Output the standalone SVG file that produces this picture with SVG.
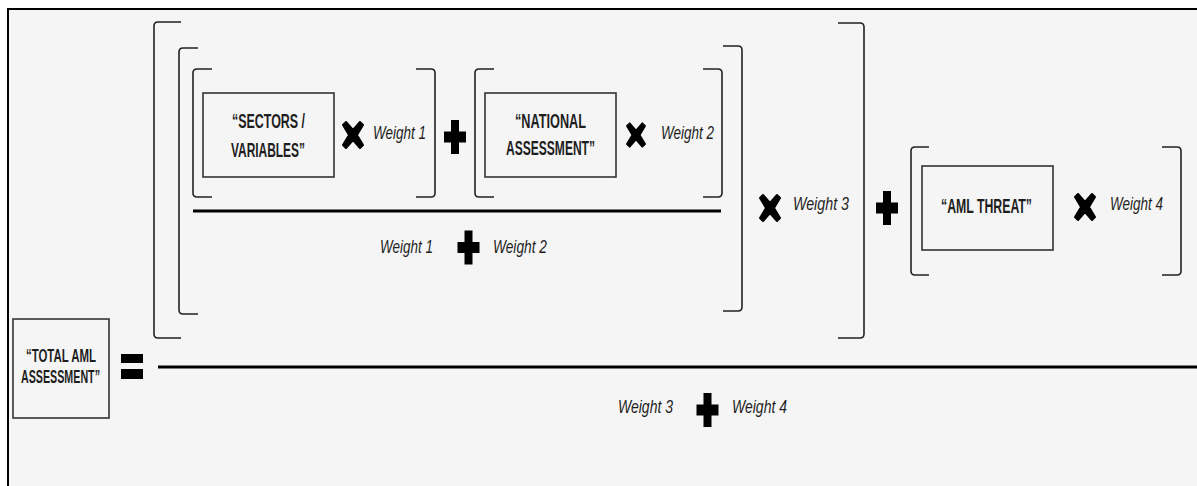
<svg xmlns="http://www.w3.org/2000/svg" xmlns:xlink="http://www.w3.org/1999/xlink" width="1197" height="486" viewBox="0 0 1197 486">
<style>
.frame{fill:#f5f5f5;stroke:#000;stroke-width:2}
.box{fill:none;stroke:#333;stroke-width:1.6}
.br{fill:none;stroke:#222;stroke-width:1.6}
.bar{stroke:#000;stroke-width:3}
.lbl{font-family:"Liberation Sans",Arial,sans-serif;font-weight:bold;font-size:20px;fill:#1e1e1e}
.lbl-s{font-size:18px}
.w{font-family:"Liberation Sans",Arial,sans-serif;font-style:italic;font-size:18px;fill:#1e1e1e}
.op{fill:#000}
</style>
<defs>
<g id="plus"><rect x="-4" y="-17" width="8" height="34"/><rect x="-11" y="-5.5" width="22" height="11"/></g>
<g id="times"><path d="M-7,-13 L0,-5 L7,-13 L10,-10 L4,0 L10,10 L7,13 L0,5 L-7,13 L-10,10 L-4,0 L-10,-10 Z" stroke="#000" stroke-width="2" stroke-linejoin="round"/></g>
</defs>
<rect class="frame" x="8" y="9" width="1200" height="490"/>

<g id="brackets">
<path class="br" d="M181,22 L158,22 Q154,22 154,26 L154,334 Q154,338 158,338 L181,338"/>
<path class="br" d="M838,23 L860,23 Q864,23 864,27 L864,334 Q864,338 860,338 L838,338"/>
<path class="br" d="M198,48 L183,48 Q179,48 179,52 L179,310 Q179,314 183,314 L198,314"/>
<path class="br" d="M723,46 L738,46 Q742,46 742,50 L742,307 Q742,311 738,311 L723,311"/>
<path class="br" d="M212,69 L197,69 Q193,69 193,73 L193,193 Q193,197 197,197 L212,197"/>
<path class="br" d="M416,69 L431,69 Q435,69 435,73 L435,193 Q435,197 431,197 L416,197"/>
<path class="br" d="M494,69 L479,69 Q475,69 475,73 L475,193 Q475,197 479,197 L494,197"/>
<path class="br" d="M703,69 L718,69 Q722,69 722,73 L722,193 Q722,197 718,197 L703,197"/>
<path class="br" d="M929,147 L915,147 Q911,147 911,151 L911,271 Q911,275 915,275 L929,275"/>
<path class="br" d="M1162,147 L1177,147 Q1181,147 1181,151 L1181,271 Q1181,275 1177,275 L1162,275"/>
</g>

<g id="connectors">
<line class="bar" x1="193" y1="211" x2="721" y2="211"/>
<line class="bar" x1="158" y1="367" x2="1197" y2="367"/>
</g>

<g id="node-sectors">
<rect class="box" x="203" y="93" width="131" height="84"/>
<text class="lbl" x="232" y="128" textLength="73" lengthAdjust="spacingAndGlyphs">“SECTORS /</text>
<text class="lbl" x="231" y="157" textLength="74" lengthAdjust="spacingAndGlyphs">VARIABLES”</text>
</g>
<g id="node-national">
<rect class="box" x="485" y="93" width="131" height="84"/>
<text class="lbl" x="515" y="128" textLength="71" lengthAdjust="spacingAndGlyphs">“NATIONAL</text>
<text class="lbl" x="506" y="155" textLength="89" lengthAdjust="spacingAndGlyphs">ASSESSMENT”</text>
</g>
<g id="node-aml-threat">
<rect class="box" x="922" y="166" width="131" height="84"/>
<text class="lbl" x="941" y="213" textLength="91" lengthAdjust="spacingAndGlyphs">“AML THREAT”</text>
</g>
<g id="node-total">
<rect class="box" x="13" y="319" width="96" height="99"/>
<text class="lbl lbl-s" x="26" y="362" textLength="70" lengthAdjust="spacingAndGlyphs">“TOTAL AML</text>
<text class="lbl lbl-s" x="21" y="383" textLength="79" lengthAdjust="spacingAndGlyphs">ASSESSMENT”</text>
</g>

<g id="operators" class="op">
<use xlink:href="#times" x="353" y="135"/>
<use xlink:href="#times" transform="translate(636,135) scale(0.9)"/>
<use xlink:href="#times" x="770" y="208"/>
<use xlink:href="#times" x="1085" y="207"/>
<use xlink:href="#plus" x="455" y="137"/>
<use xlink:href="#plus" x="468.5" y="247.5"/>
<use xlink:href="#plus" x="887" y="208"/>
<use xlink:href="#plus" x="707.5" y="410"/>
<rect x="121" y="354" width="22" height="9"/>
<rect x="121" y="369" width="22" height="10"/>
</g>

<g id="weights">
<text class="w" x="373" y="139" textLength="53" lengthAdjust="spacingAndGlyphs">Weight 1</text>
<text class="w" x="661" y="139" textLength="53" lengthAdjust="spacingAndGlyphs">Weight 2</text>
<text class="w" x="380" y="253" textLength="53" lengthAdjust="spacingAndGlyphs">Weight 1</text>
<text class="w" x="493" y="253" textLength="54" lengthAdjust="spacingAndGlyphs">Weight 2</text>
<text class="w" x="793" y="210" textLength="56" lengthAdjust="spacingAndGlyphs">Weight 3</text>
<text class="w" x="1110" y="210" textLength="53" lengthAdjust="spacingAndGlyphs">Weight 4</text>
<text class="w" x="618" y="413" textLength="55" lengthAdjust="spacingAndGlyphs">Weight 3</text>
<text class="w" x="732" y="413" textLength="55" lengthAdjust="spacingAndGlyphs">Weight 4</text>
</g>
</svg>
